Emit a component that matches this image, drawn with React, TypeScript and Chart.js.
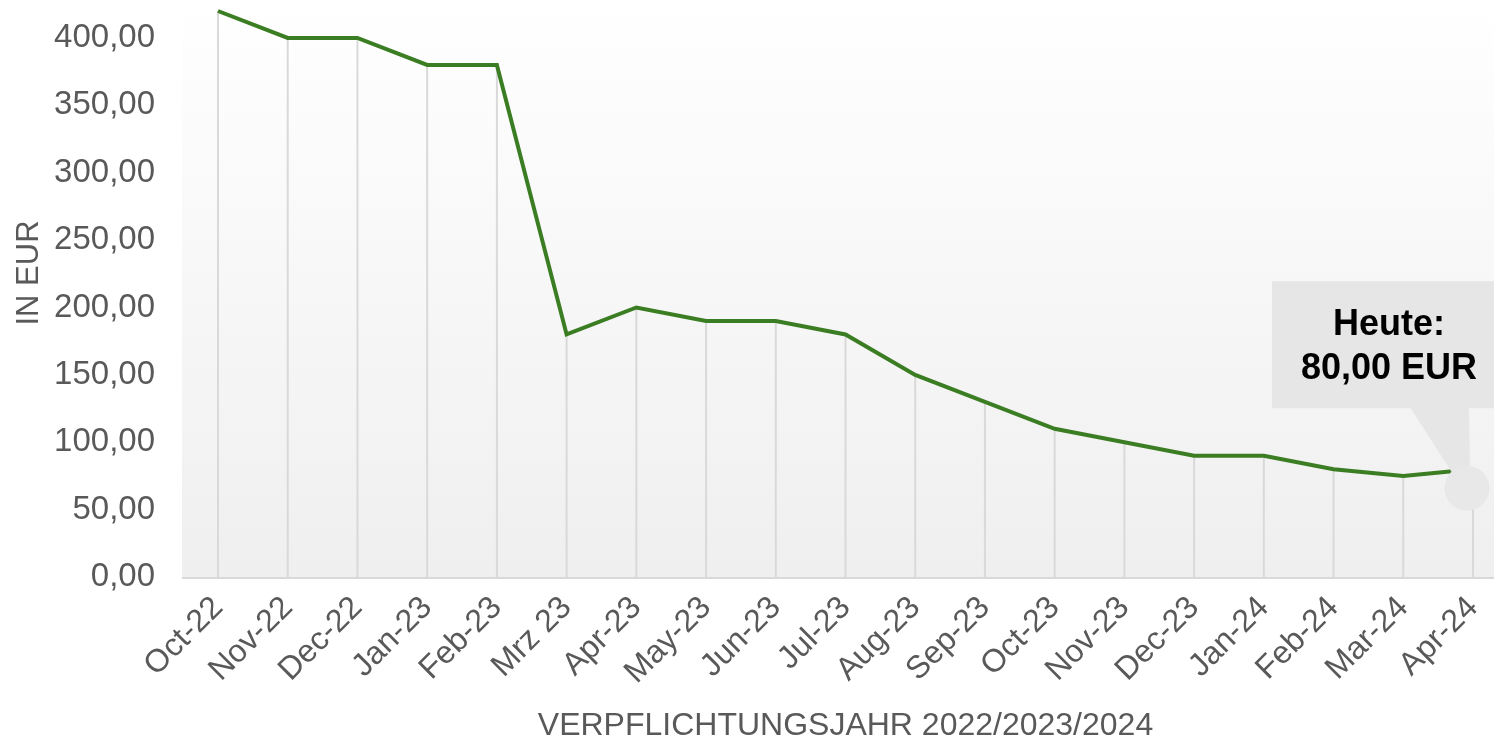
import React, { useEffect, useRef } from "react";
import { Chart, registerables } from "chart.js";

Chart.register(...registerables);

const categories = [
  "Oct-22", "Nov-22", "Dec-22", "Jan-23", "Feb-23", "Mrz 23", "Apr-23",
  "May-23", "Jun-23", "Jul-23", "Aug-23", "Sep-23", "Oct-23", "Nov-23",
  "Dec-23", "Jan-24", "Feb-24", "Mar-24", "Apr-24",
];
const values = [420, 400, 400, 380, 380, 180, 200, 190, 190, 180, 150, 130, 110, 100, 90, 90, 80, 75, 80];
const yTicks = [0, 50, 100, 150, 200, 250, 300, 350, 400];
const yMax = 420;
const xTitle = "VERPFLICHTUNGSJAHR 2022/2023/2024";
const yTitle = "IN EUR";
const calloutLines = ["Heute:", "80,00 EUR"];

const FONT = "'Liberation Sans', Arial, sans-serif";

const decoPlugin = {
  id: "deco",
  beforeDraw(chart: any) {
    const { ctx, chartArea } = chart;
    const x0 = chartArea.left - 36;
    ctx.save();
    const g = ctx.createLinearGradient(0, 0, 0, chartArea.bottom);
    g.addColorStop(0, "#ffffff");
    g.addColorStop(1, "#efefef");
    ctx.fillStyle = g;
    ctx.fillRect(x0, 0, chart.width - x0, chartArea.bottom);
    ctx.restore();
  },
  beforeDatasetsDraw(chart: any) {
    const { ctx, chartArea } = chart;
    const meta = chart.getDatasetMeta(0);
    ctx.save();
    ctx.strokeStyle = "#d9d9d9";
    ctx.lineWidth = 2;
    meta.data.forEach((p: any) => {
      ctx.beginPath();
      ctx.moveTo(p.x, p.y);
      ctx.lineTo(p.x, chartArea.bottom);
      ctx.stroke();
    });
    ctx.beginPath();
    ctx.moveTo(chartArea.left - 36, chartArea.bottom + 1);
    ctx.lineTo(chart.width, chartArea.bottom + 1);
    ctx.stroke();
    ctx.restore();
  },
  afterDatasetsDraw(chart: any) {
    const { ctx, chartArea } = chart;
    const meta = chart.getDatasetMeta(0);
    const p = meta.data[meta.data.length - 1];
    const px = p.x;
    const py = p.y;
    ctx.save();
    const bx = px - 201;
    const by = py - 188;
    const bh = 127;
    ctx.fillStyle = "#e6e6e6";
    ctx.fillRect(bx, by, chart.width - bx, bh);
    ctx.beginPath();
    ctx.moveTo(px - 63, by + bh - 1);
    ctx.lineTo(px - 4, by + bh - 1);
    ctx.lineTo(px - 3, py + 8);
    ctx.lineTo(px - 18, py + 8);
    ctx.closePath();
    ctx.fill();
    ctx.fillStyle = "#e8e8e8";
    ctx.beginPath();
    ctx.arc(px - 6, py + 19, 22.5, 0, Math.PI * 2);
    ctx.fill();
    ctx.fillStyle = "#000000";
    ctx.font = `bold 36px ${FONT}`;
    ctx.textAlign = "center";
    ctx.textBaseline = "middle";
    const cx = bx + 117;
    ctx.fillText(calloutLines[0], cx, by + 44);
    ctx.fillText(calloutLines[1], cx, by + 88);
    // y axis title
    ctx.translate(29, (chartArea.top + chartArea.bottom) / 2 - 21);
    ctx.rotate(-Math.PI / 2);
    ctx.fillStyle = "#595959";
    ctx.font = `31px ${FONT}`;
    ctx.fillText(yTitle, 0, 0);
    ctx.restore();
  },
};

export default function App() {
  const ref = useRef<HTMLCanvasElement>(null);
  useEffect(() => {
    document.body.style.margin = "0";
    const chart = new Chart(ref.current!, {
      type: "line",
      data: {
        labels: categories,
        datasets: [
          {
            data: values,
            borderColor: "#3b7d23",
            borderWidth: 4,
            pointRadius: 0,
            tension: 0,
            fill: false,
            clip: false as any,
          },
        ],
      },
      options: {
        animation: false,
        responsive: true,
        maintainAspectRatio: false,
        layout: { padding: { top: 11, right: 21, left: 0, bottom: 0 } },
        plugins: { legend: { display: false }, tooltip: { enabled: false } },
        scales: {
          x: {
            offset: false,
            grid: { display: false, drawTicks: false },
            border: { display: false },
            ticks: {
              color: "#595959",
              font: { family: FONT, size: 32 },
              minRotation: 45,
              maxRotation: 45,
              autoSkip: false,
              padding: 12,
            },
            title: {
              display: true,
              text: xTitle,
              color: "#595959",
              font: { family: FONT, size: 32, lineHeight: 1 },
              padding: { top: 0, bottom: 0 },
            },
            afterFit: (scale: any) => {
              scale.height = 165;
              scale.paddingLeft = 0;
              scale.paddingRight = 0;
            },
          },
          y: {
            min: 0,
            max: yMax,
            grace: 0,
            grid: { display: false, drawTicks: false },
            border: { display: false },
            ticks: {
              color: "#595959",
              font: { family: FONT, size: 33 },
              padding: 63,
              callback: (v: any) => Number(v).toFixed(2).replace(".", ","),
            },
            afterBuildTicks: (scale: any) => {
              scale.ticks = yTicks.map((v) => ({ value: v }));
            },
            title: { display: false },
            afterFit: (scale: any) => {
              scale.width = 218;
              scale.paddingTop = 0;
              scale.paddingBottom = 0;
            },
          },
        },
      },
      plugins: [decoPlugin],
    });
    return () => chart.destroy();
  }, []);
  return (
    <div style={{ position: "fixed", left: 0, top: 0, width: 1494, height: 742 }}>
      <canvas ref={ref} />
    </div>
  );
}
